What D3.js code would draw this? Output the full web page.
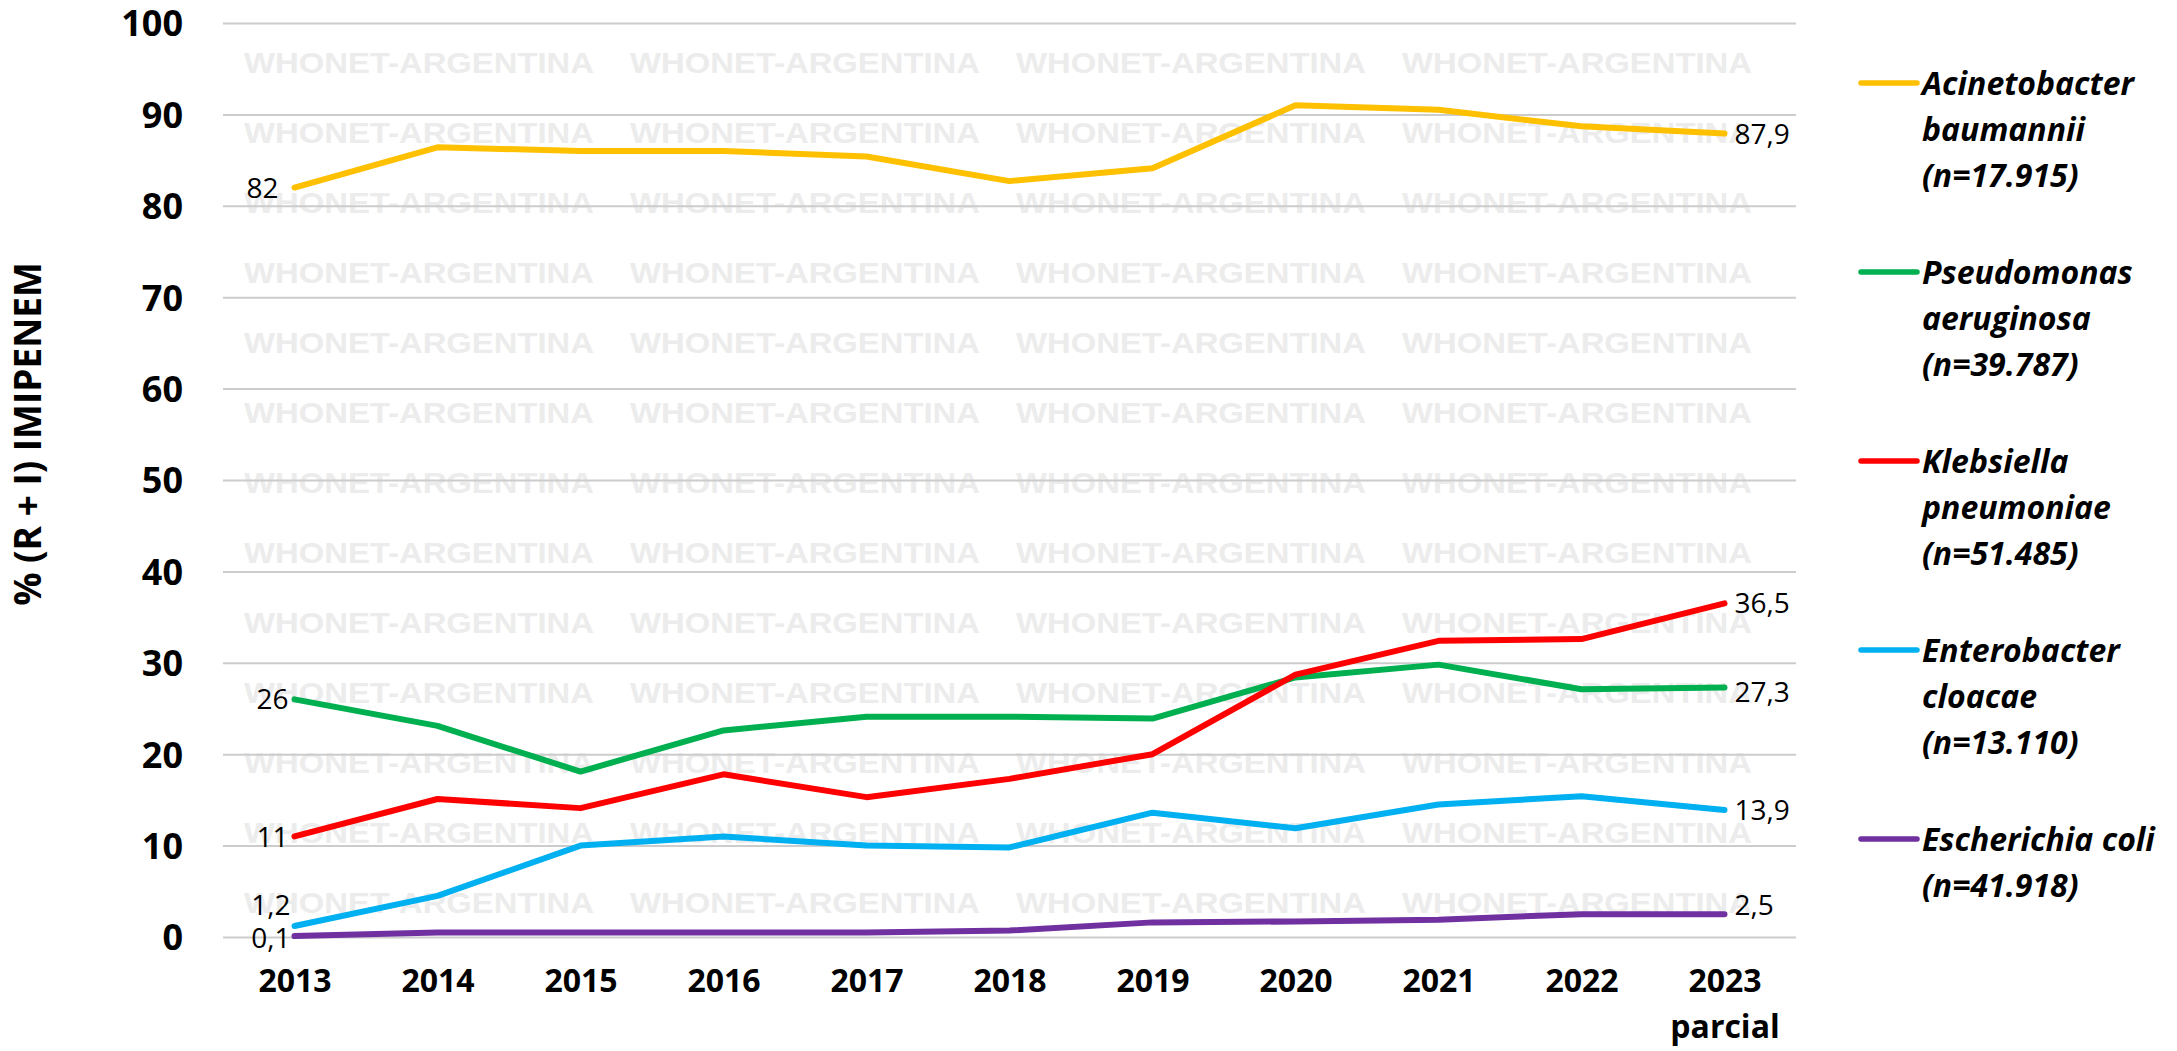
<!DOCTYPE html>
<html>
<head>
<meta charset="utf-8">
<script src="https://cdn.jsdelivr.net/npm/d3@7"></script>
<style>
  html, body { margin: 0; padding: 0; background: #fff; }
  svg { display: block; }
  .tick-y { font: 700 36px "Open Sans", sans-serif; fill: #000; }
  .tick-x { font: 700 32px "Open Sans", sans-serif; fill: #000; }
  .dlabel { font: 400 28px "Open Sans", sans-serif; fill: #000; }
  .legend { font: italic 700 32px "Open Sans", sans-serif; fill: #000; }
  .ytitle { font: 700 37px "Open Sans", sans-serif; fill: #000; }
  .wm { font: 700 30px "Liberation Sans", Arial, sans-serif; fill: #ececec; }
</style>
</head>
<body>
<div id="chart"></div>
<script>
// ============================================================
// 数据
// ============================================================
const years = ['2013', '2014', '2015', '2016', '2017', '2018', '2019', '2020', '2021', '2022', '2023'];
const yearSub = ['', '', '', '', '', '', '', '', '', '', 'parcial'];
const yTicks = [0, 10, 20, 30, 40, 50, 60, 70, 80, 90, 100];

const acinetobacter = [82, 86.4, 86.0, 86.0, 85.4, 82.7, 84.1, 91.0, 90.5, 88.7, 87.9];
const pseudomonas   = [26, 23.1, 18.1, 22.6, 24.1, 24.1, 23.9, 28.4, 29.8, 27.1, 27.3];
const klebsiella    = [11, 15.1, 14.1, 17.8, 15.3, 17.3, 20.0, 28.7, 32.4, 32.6, 36.5];
const enterobacter  = [1.2, 4.5, 10.0, 11.0, 10.0, 9.8, 13.6, 11.9, 14.5, 15.4, 13.9];
const ecoli         = [0.1, 0.5, 0.5, 0.5, 0.5, 0.7, 1.6, 1.7, 1.9, 2.5, 2.5];

const seriesNames = [
  ['Acinetobacter', 'baumannii'],
  ['Pseudomonas', 'aeruginosa'],
  ['Klebsiella', 'pneumoniae'],
  ['Enterobacter', 'cloacae'],
  ['Escherichia coli']
];
const sampleSizes = ['17.915', '39.787', '51.485', '13.110', '41.918'];
const colors = ['#FFC000', '#00B050', '#FF0000', '#00B0F0', '#7030A0'];
const seriesValues = [acinetobacter, pseudomonas, klebsiella, enterobacter, ecoli];

// 首末数据标签的微调（dx, dy）
const firstLabelShift = [[-16, 0], [-6, 0], [-6, 0], [-4, -21], [-4, 2]];
const lastLabelShift  = [[10, 0], [10, 4], [10, 0], [10, 0], [10, -9]];

// ============================================================
// 画布与比例尺
// ============================================================
const W = 2177, H = 1051;
const plot = { left: 223, right: 1796, top: 23, bottom: 937 };

const svg = d3.select('#chart').append('svg')
  .attr('width', W).attr('height', H);

const x = d3.scalePoint().domain(years).range([plot.left, plot.right]).padding(0.5);
const y = d3.scaleLinear().domain([0, 100]).range([plot.bottom, plot.top]);

const fmt = v => String(v).replace('.', ',');

// ============================================================
// 水印（最底层）
// ============================================================
const wmCols = d3.range(4).map(i => 244 + i * 386);
const wmRows = d3.range(13).map(i => 62 + i * 70);
const wm = svg.append('g');
wmRows.forEach(ry => {
  wmCols.forEach(cx => {
    wm.append('text').attr('class', 'wm')
      .attr('x', cx).attr('y', ry + 11)
      .attr('textLength', 350).attr('lengthAdjust', 'spacingAndGlyphs')
      .text('WHONET-ARGENTINA');
  });
});

// ============================================================
// 网格线 + Y 轴
// ============================================================
const yAxis = d3.axisLeft(y).tickValues(yTicks).tickSize(-(plot.right - plot.left)).tickPadding(40);
const gy = svg.append('g').attr('transform', `translate(${plot.left},0)`).call(yAxis);
gy.select('.domain').remove();
gy.selectAll('.tick line').attr('stroke', '#cccccc').attr('stroke-width', 2);
gy.selectAll('.tick text').attr('class', 'tick-y').attr('dy', '0.36em');

// X 轴标签
const xAxis = d3.axisBottom(x).tickSize(0).tickPadding(0);
const gx = svg.append('g').attr('transform', `translate(0,${plot.bottom})`).call(xAxis);
gx.select('.domain').remove();
gx.selectAll('.tick text').attr('class', 'tick-x').attr('y', 55).attr('dy', 0);
gx.selectAll('.tick').append('text')
  .attr('class', 'tick-x').attr('y', 101).attr('text-anchor', 'middle')
  .text((d, i) => yearSub[i]);

// Y 轴标题
svg.append('text').attr('class', 'ytitle')
  .attr('transform', 'translate(28,434) rotate(-90)')
  .attr('text-anchor', 'middle').attr('dy', '0.36em')
  .text('% (R + I) IMIPENEM');

// ============================================================
// 折线
// ============================================================
const line = d3.line().x((d, i) => x(years[i])).y(d => y(d));
seriesValues.forEach((vals, s) => {
  svg.append('path').datum(vals)
    .attr('d', line)
    .attr('fill', 'none')
    .attr('stroke', colors[s])
    .attr('stroke-width', 6)
    .attr('stroke-linejoin', 'round')
    .attr('stroke-linecap', 'round');
});

// 数据标签（首、末点）
seriesValues.forEach((vals, s) => {
  const last = vals.length - 1;
  svg.append('text').attr('class', 'dlabel')
    .attr('x', x(years[0]) + firstLabelShift[s][0])
    .attr('y', y(vals[0]) + firstLabelShift[s][1])
    .attr('dy', '0.36em').attr('text-anchor', 'end')
    .text(fmt(vals[0]));
  svg.append('text').attr('class', 'dlabel')
    .attr('x', x(years[last]) + lastLabelShift[s][0])
    .attr('y', y(vals[last]) + lastLabelShift[s][1])
    .attr('dy', '0.36em').attr('text-anchor', 'start')
    .text(fmt(vals[last]));
});

// ============================================================
// 图例
// ============================================================
const legend = svg.append('g');
seriesNames.forEach((names, s) => {
  const ly = 83 + s * 189;
  legend.append('line')
    .attr('x1', 1861).attr('x2', 1917).attr('y1', ly).attr('y2', ly)
    .attr('stroke', colors[s]).attr('stroke-width', 5.5).attr('stroke-linecap', 'round');
  const rows = names.concat([`(n=${sampleSizes[s]})`]);
  rows.forEach((t, r) => {
    legend.append('text').attr('class', 'legend')
      .attr('x', 1922).attr('y', ly + r * 46).attr('dy', '0.36em')
      .text(t);
  });
});
</script>
</body>
</html>
